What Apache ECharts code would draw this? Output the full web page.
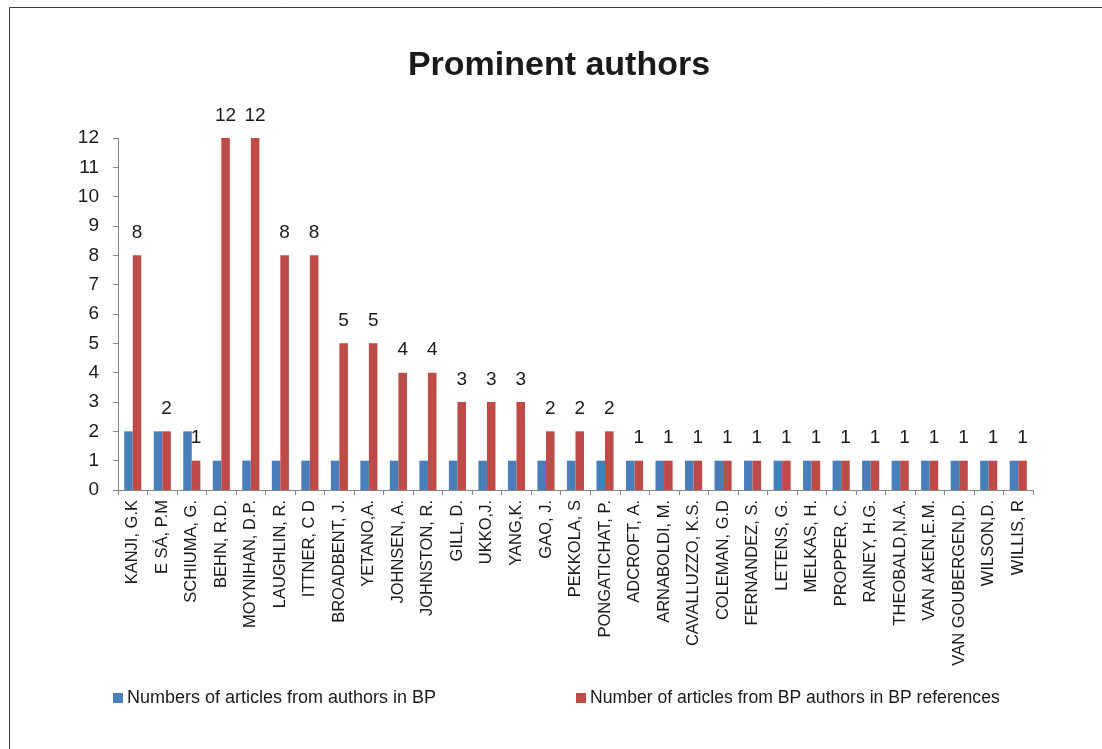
<!DOCTYPE html>
<html>
<head>
<meta charset="utf-8">
<script src="https://cdn.jsdelivr.net/npm/echarts@6/dist/echarts.min.js"></script>
<style>html,body{margin:0;padding:0;background:#fff;}#c{width:1102px;height:749px;}</style>
</head>
<body>
<div id="c"></div>
<script>
const authors = ["KANJI, G.K", "E SÁ, P.M", "SCHIUMA, G.", "BEHN, R.D.", "MOYNIHAN, D.P.", "LAUGHLIN, R.", "ITTNER, C D", "BROADBENT, J.", "YETANO,A.", "JOHNSEN, A.", "JOHNSTON, R.", "GILL, D.", "UKKO,J.", "YANG,K.", "GAO, J.", "PEKKOLA, S", "PONGATICHAT, P.", "ADCROFT, A.", "ARNABOLDI, M.", "CAVALLUZZO, K.S.", "COLEMAN, G.D", "FERNANDEZ, S.", "LETENS, G.", "MELKAS, H.", "PROPPER, C.", "RAINEY, H.G.", "THEOBALD,N.A.", "VAN AKEN,E.M.", "VAN GOUBERGEN,D.", "WILSON,D.", "WILLIS, R"];
const articlesInBP = [2, 2, 2, 1, 1, 1, 1, 1, 1, 1, 1, 1, 1, 1, 1, 1, 1, 1, 1, 1, 1, 1, 1, 1, 1, 1, 1, 1, 1, 1, 1];
const articlesInRefs = [8, 2, 1, 12, 12, 8, 8, 5, 5, 4, 4, 3, 3, 3, 2, 2, 2, 1, 1, 1, 1, 1, 1, 1, 1, 1, 1, 1, 1, 1, 1];
const seriesNames = ["Numbers of articles from authors in BP", "Number of articles from BP authors in BP references"];

const FONT = "Liberation Sans";
const chart = echarts.init(document.getElementById('c'), null, {renderer: 'canvas'});
chart.setOption({
  animation: false,
  backgroundColor: '#ffffff',
  textStyle: {fontFamily: FONT},
  title: {
    text: 'Prominent authors',
    left: 554, top: 44, textAlign: 'center',
    textStyle: {fontFamily: FONT, fontWeight: 'bold', fontSize: 34, color: '#1a1a1a'}
  },
  graphic: [{
    type: 'rect', silent: true,
    shape: {x: 9.5, y: 7.5, width: 1300, height: 900},
    style: {fill: 'none', stroke: '#3a3a3a', lineWidth: 1}
  }],
  legend: [
    {data: [seriesNames[0]], left: 108, top: 684, icon: 'rect', itemWidth: 10, itemHeight: 10, itemGap: 6,
     textStyle: {fontFamily: FONT, fontSize: 18, color: '#1a1a1a', padding: [0,0,0,-1]}},
    {data: [seriesNames[1]], left: 571, top: 684, icon: 'rect', itemWidth: 10, itemHeight: 10, itemGap: 6,
     textStyle: {fontFamily: FONT, fontSize: 17.6, color: '#1a1a1a', padding: [0,0,0,-1]}}
  ],
  grid: {left: 118, right: 69, top: 138, bottom: 259, containLabel: false},
  xAxis: {
    type: 'category', data: authors,
    axisLine: {lineStyle: {color: '#868686', width: 1}},
    axisTick: {show: true, length: 5, lineStyle: {color: '#868686'}},
    axisLabel: {rotate: 90, interval: 0, margin: 10, fontSize: 16.5, color: '#1a1a1a', fontFamily: FONT}
  },
  yAxis: {
    type: 'value', min: 0, max: 12, interval: 1,
    axisLine: {show: true, lineStyle: {color: '#868686', width: 1}},
    axisTick: {show: true, length: 5, lineStyle: {color: '#868686'}},
    splitLine: {show: false},
    axisLabel: {fontSize: 19, color: '#1a1a1a', margin: 19, fontFamily: FONT}
  },
  series: [
    {name: seriesNames[0], type: 'bar', data: articlesInBP, barGap: '0%', barCategoryGap: '42%',
     itemStyle: {color: '#4a7ebb'}},
    {name: seriesNames[1], type: 'bar', data: articlesInRefs, barGap: '0%', barCategoryGap: '42%',
     itemStyle: {color: '#be4b48'},
     label: {show: true, position: 'top', distance: 13, fontSize: 19, color: '#1a1a1a', fontFamily: FONT}}
  ]
});
</script>
</body>
</html>
